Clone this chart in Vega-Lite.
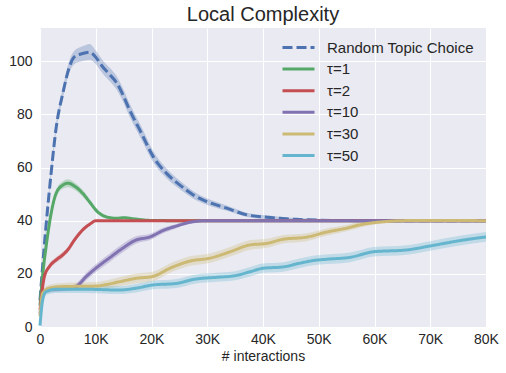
{
  "$schema": "https://vega.github.io/schema/vega-lite/v6.json",
  "width": 446,
  "height": 299,
  "autosize": "none",
  "padding": {"left": 40, "top": 28, "right": 20, "bottom": 46},
  "background": "white",
  "title": {"text": "Local Complexity", "fontSize": 20, "fontWeight": "normal", "color": "#262626", "font": "Liberation Sans", "offset": 3},
  "config": {
    "view": {"fill": "#EAEAF2", "stroke": null},
    "font": "Liberation Sans",
    "axis": {"domain": false, "ticks": false, "gridColor": "white", "gridWidth": 1, "labelFontSize": 14, "labelColor": "#262626", "titleColor": "#262626", "titleFontSize": 14, "titleFontWeight": "normal", "labelFont": "Liberation Sans", "titleFont": "Liberation Sans"},
    "legend": {"orient": "none", "legendX": 247, "legendY": 8, "symbolType": "M-1.6,0H1.6", "symbolSize": 400, "symbolStrokeWidth": 3, "symbolFillColor": "transparent", "labelFontSize": 15, "labelColor": "#262626", "labelFont": "Liberation Sans", "rowPadding": 1.6, "labelOffset": 17, "padding": 0, "labelLimit": 300}
  },
  "data": {"values": [
    {"s":"Random Topic Choice","x":0,"y":10,"lo":9,"hi":11},
    {"s":"Random Topic Choice","x":360,"y":20,"lo":19,"hi":21},
    {"s":"Random Topic Choice","x":1080,"y":38,"lo":37,"hi":39},
    {"s":"Random Topic Choice","x":2000,"y":58,"lo":56.5,"hi":59.5},
    {"s":"Random Topic Choice","x":2900,"y":75,"lo":73.5,"hi":76.5},
    {"s":"Random Topic Choice","x":4100,"y":88,"lo":86,"hi":90},
    {"s":"Random Topic Choice","x":5300,"y":98,"lo":96,"hi":100.5},
    {"s":"Random Topic Choice","x":6200,"y":101.7,"lo":99,"hi":104},
    {"s":"Random Topic Choice","x":7500,"y":102.8,"lo":100,"hi":105.5},
    {"s":"Random Topic Choice","x":8900,"y":103.4,"lo":100.5,"hi":106.5},
    {"s":"Random Topic Choice","x":10000,"y":101.5,"lo":99,"hi":104},
    {"s":"Random Topic Choice","x":11200,"y":98,"lo":95.5,"hi":100.5},
    {"s":"Random Topic Choice","x":12500,"y":95,"lo":92.5,"hi":97.5},
    {"s":"Random Topic Choice","x":13700,"y":92,"lo":89.5,"hi":94.5},
    {"s":"Random Topic Choice","x":14500,"y":89,"lo":86.5,"hi":91.5},
    {"s":"Random Topic Choice","x":16100,"y":81.5,"lo":79,"hi":84},
    {"s":"Random Topic Choice","x":18200,"y":72.9,"lo":70.5,"hi":75.3},
    {"s":"Random Topic Choice","x":20300,"y":64.1,"lo":62,"hi":66.2},
    {"s":"Random Topic Choice","x":22700,"y":57.8,"lo":56,"hi":59.6},
    {"s":"Random Topic Choice","x":25100,"y":53.4,"lo":51.8,"hi":55},
    {"s":"Random Topic Choice","x":27500,"y":49.7,"lo":48.3,"hi":51.1},
    {"s":"Random Topic Choice","x":29900,"y":47.2,"lo":46,"hi":48.4},
    {"s":"Random Topic Choice","x":33500,"y":44.7,"lo":43.7,"hi":45.7},
    {"s":"Random Topic Choice","x":37100,"y":42.2,"lo":41.4,"hi":43},
    {"s":"Random Topic Choice","x":40700,"y":41.3,"lo":40.6,"hi":42},
    {"s":"Random Topic Choice","x":43000,"y":40.9,"lo":40.3,"hi":41.5},
    {"s":"Random Topic Choice","x":46000,"y":40.5,"lo":40,"hi":41},
    {"s":"Random Topic Choice","x":50000,"y":40.2,"lo":39.8,"hi":40.6},
    {"s":"Random Topic Choice","x":55000,"y":40.05,"lo":39.8,"hi":40.3},
    {"s":"Random Topic Choice","x":60000,"y":40,"lo":39.8,"hi":40.2},
    {"s":"Random Topic Choice","x":70000,"y":40,"lo":39.8,"hi":40.2},
    {"s":"Random Topic Choice","x":80000,"y":40,"lo":39.8,"hi":40.2},
    {"s":"τ=1","x":0,"y":8,"lo":7,"hi":9},
    {"s":"τ=1","x":500,"y":20,"lo":19,"hi":21},
    {"s":"τ=1","x":1080,"y":30,"lo":29,"hi":31},
    {"s":"τ=1","x":2000,"y":42.8,"lo":41.8,"hi":43.8},
    {"s":"τ=1","x":2900,"y":50.3,"lo":49,"hi":51.6},
    {"s":"τ=1","x":4100,"y":53.4,"lo":52,"hi":54.8},
    {"s":"τ=1","x":5000,"y":54.1,"lo":52.6,"hi":55.6},
    {"s":"τ=1","x":6200,"y":53,"lo":51.6,"hi":54.4},
    {"s":"τ=1","x":7650,"y":50.3,"lo":49,"hi":51.6},
    {"s":"τ=1","x":8850,"y":47.2,"lo":46.2,"hi":48.2},
    {"s":"τ=1","x":10300,"y":43.4,"lo":42.6,"hi":44.2},
    {"s":"τ=1","x":11800,"y":41.5,"lo":40.9,"hi":42.1},
    {"s":"τ=1","x":13600,"y":40.9,"lo":40.4,"hi":41.4},
    {"s":"τ=1","x":15100,"y":41.1,"lo":40.6,"hi":41.6},
    {"s":"τ=1","x":17200,"y":40.6,"lo":40.2,"hi":41},
    {"s":"τ=1","x":20000,"y":40.1,"lo":39.9,"hi":40.3},
    {"s":"τ=1","x":25000,"y":40,"lo":39.9,"hi":40.1},
    {"s":"τ=1","x":80000,"y":40,"lo":39.9,"hi":40.1},
    {"s":"τ=2","x":0,"y":6.4,"lo":5.5,"hi":7.3},
    {"s":"τ=2","x":780,"y":18.9,"lo":18,"hi":19.8},
    {"s":"τ=2","x":1670,"y":22.7,"lo":21.7,"hi":23.7},
    {"s":"τ=2","x":2870,"y":25.2,"lo":24.2,"hi":26.2},
    {"s":"τ=2","x":4070,"y":27.1,"lo":26,"hi":28.2},
    {"s":"τ=2","x":4970,"y":29,"lo":28,"hi":30},
    {"s":"τ=2","x":6160,"y":32.7,"lo":31.7,"hi":33.7},
    {"s":"τ=2","x":7650,"y":36.5,"lo":35.7,"hi":37.3},
    {"s":"τ=2","x":9150,"y":39,"lo":38.5,"hi":39.5},
    {"s":"τ=2","x":10000,"y":40,"lo":39.8,"hi":40.2},
    {"s":"τ=2","x":80000,"y":40,"lo":39.8,"hi":40.2},
    {"s":"τ=10","x":0,"y":5,"lo":4,"hi":6},
    {"s":"τ=10","x":500,"y":12,"lo":11,"hi":13},
    {"s":"τ=10","x":1100,"y":13.8,"lo":12.8,"hi":14.8},
    {"s":"τ=10","x":3000,"y":14.3,"lo":13.3,"hi":15.3},
    {"s":"τ=10","x":5000,"y":14.5,"lo":13.5,"hi":15.5},
    {"s":"τ=10","x":6460,"y":15.2,"lo":14,"hi":16.4},
    {"s":"τ=10","x":8250,"y":18.9,"lo":17.5,"hi":20.3},
    {"s":"τ=10","x":10000,"y":22.1,"lo":20.6,"hi":23.6},
    {"s":"τ=10","x":12400,"y":25.9,"lo":24.3,"hi":27.5},
    {"s":"τ=10","x":14800,"y":29.6,"lo":28,"hi":31.2},
    {"s":"τ=10","x":17200,"y":32.7,"lo":31.3,"hi":34.1},
    {"s":"τ=10","x":19600,"y":33.8,"lo":32.6,"hi":35},
    {"s":"τ=10","x":22300,"y":36.5,"lo":35.5,"hi":37.5},
    {"s":"τ=10","x":24500,"y":38,"lo":37.2,"hi":38.8},
    {"s":"τ=10","x":26900,"y":39.4,"lo":38.9,"hi":39.9},
    {"s":"τ=10","x":29900,"y":40,"lo":39.8,"hi":40.2},
    {"s":"τ=10","x":80000,"y":40,"lo":39.8,"hi":40.2},
    {"s":"τ=30","x":0,"y":4,"lo":3,"hi":5},
    {"s":"τ=30","x":480,"y":12.7,"lo":11.5,"hi":13.9},
    {"s":"τ=30","x":1670,"y":14.6,"lo":13.3,"hi":15.9},
    {"s":"τ=30","x":4070,"y":15.2,"lo":13.8,"hi":16.6},
    {"s":"τ=30","x":10000,"y":15.4,"lo":13.9,"hi":16.9},
    {"s":"τ=30","x":12000,"y":16,"lo":14.4,"hi":17.6},
    {"s":"τ=30","x":14200,"y":17,"lo":15.3,"hi":18.7},
    {"s":"τ=30","x":17200,"y":18.3,"lo":16.5,"hi":20.1},
    {"s":"τ=30","x":20200,"y":19,"lo":17.2,"hi":20.8},
    {"s":"τ=30","x":23300,"y":22.1,"lo":20.3,"hi":23.9},
    {"s":"τ=30","x":26900,"y":24.8,"lo":23,"hi":26.6},
    {"s":"τ=30","x":30500,"y":25.9,"lo":24.1,"hi":27.7},
    {"s":"τ=30","x":34100,"y":28.3,"lo":26.5,"hi":30.1},
    {"s":"τ=30","x":37700,"y":30.9,"lo":29.1,"hi":32.7},
    {"s":"τ=30","x":40500,"y":31.4,"lo":29.7,"hi":33.1},
    {"s":"τ=30","x":43600,"y":33,"lo":31.4,"hi":34.6},
    {"s":"τ=30","x":47800,"y":33.8,"lo":32.3,"hi":35.3},
    {"s":"τ=30","x":51400,"y":35.7,"lo":34.3,"hi":37.1},
    {"s":"τ=30","x":55000,"y":37.2,"lo":36,"hi":38.4},
    {"s":"τ=30","x":58000,"y":38.7,"lo":37.7,"hi":39.7},
    {"s":"τ=30","x":61600,"y":39.6,"lo":39,"hi":40.2},
    {"s":"τ=30","x":64600,"y":40,"lo":39.6,"hi":40.4},
    {"s":"τ=30","x":70000,"y":40.1,"lo":39.8,"hi":40.4},
    {"s":"τ=30","x":80000,"y":40,"lo":39.7,"hi":40.3},
    {"s":"τ=50","x":0,"y":0.5,"lo":0,"hi":1},
    {"s":"τ=50","x":480,"y":10.2,"lo":9,"hi":11.4},
    {"s":"τ=50","x":1080,"y":13.3,"lo":12,"hi":14.6},
    {"s":"τ=50","x":2870,"y":14.2,"lo":12.8,"hi":15.6},
    {"s":"τ=50","x":8250,"y":14.2,"lo":12.8,"hi":15.6},
    {"s":"τ=50","x":14200,"y":13.9,"lo":12.4,"hi":15.4},
    {"s":"τ=50","x":17200,"y":14.6,"lo":13,"hi":16.2},
    {"s":"τ=50","x":20200,"y":15.8,"lo":14.2,"hi":17.4},
    {"s":"τ=50","x":24500,"y":16.4,"lo":14.7,"hi":18.1},
    {"s":"τ=50","x":27500,"y":17.9,"lo":16.2,"hi":19.6},
    {"s":"τ=50","x":31700,"y":18.7,"lo":17,"hi":20.4},
    {"s":"τ=50","x":34700,"y":19.2,"lo":17.5,"hi":20.9},
    {"s":"τ=50","x":37700,"y":20.8,"lo":19,"hi":22.6},
    {"s":"τ=50","x":40000,"y":22.1,"lo":20.3,"hi":23.9},
    {"s":"τ=50","x":43600,"y":22.6,"lo":20.8,"hi":24.4},
    {"s":"τ=50","x":46600,"y":24,"lo":22.2,"hi":25.8},
    {"s":"τ=50","x":49000,"y":25,"lo":23.2,"hi":26.8},
    {"s":"τ=50","x":51400,"y":25.5,"lo":23.7,"hi":27.3},
    {"s":"τ=50","x":55600,"y":26.2,"lo":24.4,"hi":28},
    {"s":"τ=50","x":59800,"y":28.3,"lo":26.5,"hi":30.1},
    {"s":"τ=50","x":65800,"y":29,"lo":27.2,"hi":30.8},
    {"s":"τ=50","x":70000,"y":30.5,"lo":28.7,"hi":32.3},
    {"s":"τ=50","x":75300,"y":32.5,"lo":30.7,"hi":34.3},
    {"s":"τ=50","x":80000,"y":33.9,"lo":32.1,"hi":35.7}
  ]},
  "encoding": {
    "x": {"field": "x", "type": "quantitative", "scale": {"domain": [0, 80000], "nice": false, "zero": false},
      "axis": {"values": [0,10000,20000,30000,40000,50000,60000,70000,80000], "labelExpr": "datum.value == 0 ? '0' : (datum.value/1000) + 'K'", "title": "# interactions", "labelPadding": 5, "titlePadding": 3, "labelFlush": false}}
  },
  "layer": [
    {
      "mark": {"type": "area", "opacity": 0.3, "interpolate": "monotone"},
      "encoding": {
        "y": {"field": "lo", "type": "quantitative", "scale": {"domain": [0, 112.5], "nice": false}, "axis": {"values": [0,20,40,60,80,100], "title": null, "labelPadding": 8}},
        "y2": {"field": "hi"},
        "fill": {"field": "s", "type": "nominal", "legend": null,
          "scale": {"domain": ["τ=50","τ=30","τ=10","τ=2","τ=1","Random Topic Choice"], "range": ["#64B5CD","#CCB974","#8172B2","#C44E52","#55A868","#4C72B0"]}}
      }
    },
    {
      "mark": {"type": "line", "strokeWidth": 3, "interpolate": "monotone"},
      "encoding": {
        "y": {"field": "y", "type": "quantitative"},
        "stroke": {"field": "s", "type": "nominal", "title": null,
          "scale": {"domain": ["Random Topic Choice","τ=1","τ=2","τ=10","τ=30","τ=50"], "range": ["#4C72B0","#55A868","#C44E52","#8172B2","#CCB974","#64B5CD"]}},
        "strokeDash": {"field": "s", "type": "nominal", "title": null,
          "scale": {"domain": ["Random Topic Choice","τ=1","τ=2","τ=10","τ=30","τ=50"], "range": [[10,4],[1,0],[1,0],[1,0],[1,0],[1,0]]}}
      }
    }
  ]
}
